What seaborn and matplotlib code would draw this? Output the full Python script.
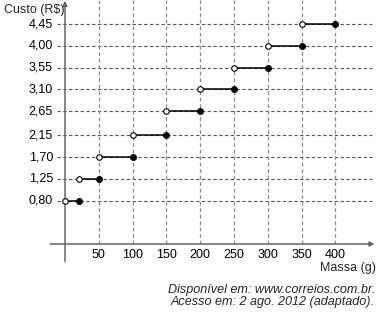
import matplotlib
matplotlib.use("Agg")
import matplotlib.pyplot as plt
import seaborn as sns
import pandas as pd

# ---- data ----
mass_start = [0, 20, 50, 100, 150, 200, 250, 300, 350]
mass_end = [20, 50, 100, 150, 200, 250, 300, 350, 400]
cost = [0.80, 1.25, 1.70, 2.15, 2.65, 3.10, 3.55, 4.00, 4.45]
x_ticks = [50, 100, 150, 200, 250, 300, 350, 400]
y_ticks = cost
y_labels = ["0,80", "1,25", "1,70", "2,15", "2,65", "3,10", "3,55", "4,00", "4,45"]
x_label = "Massa (g)"
y_label = "Custo (R$)"
caption1 = "Disponível em: www.correios.com.br."
caption2 = "Acesso em: 2 ago. 2012 (adaptado)."

sns.set_style("white")
plt.rcParams["font.family"] = ["Liberation Sans", "DejaVu Sans"]

W, H = 381, 315
fig = plt.figure(figsize=(W / 100, H / 100), dpi=100)
ax = fig.add_axes([0, 0, 1, 1])

# pixel mapping: px = 65 + 0.676*g ; py = 239.4 - 48.4*c
sx, x0 = 0.676, 65.0
sy, y0 = 48.4, 239.4
ax.set_xlim(-x0 / sx, (W - x0) / sx)
ax.set_ylim((y0 - H) / sy, y0 / sy)
for s in ax.spines.values():
    s.set_visible(False)
ax.set_xticks([])
ax.set_yticks([])
ax.patch.set_alpha(0)

axis_y = -0.095

# grid lines
ax.hlines(y_ticks, -12, 454, colors="#555555", linestyles=(0, (3, 2.2)), linewidth=0.8, zorder=1)
ax.vlines(x_ticks, axis_y, 4.95, colors="#8a8a8a", linestyles=(0, (3, 2.2)), linewidth=0.9, zorder=1)

# axes with arrows
ax.annotate("", xy=(0, 4.93), xytext=(0, -0.46),
            arrowprops=dict(arrowstyle="-|>", color="#666666", lw=1.1,
                            mutation_scale=7, shrinkA=0, shrinkB=0), zorder=2)
ax.annotate("", xy=(458, axis_y), xytext=(-22, axis_y),
            arrowprops=dict(arrowstyle="-|>", color="#666666", lw=1.1,
                            mutation_scale=7, shrinkA=0, shrinkB=0), zorder=2)

# segments
seg = pd.DataFrame({
    "massa": mass_start + mass_end,
    "custo": cost + cost,
    "faixa": list(range(len(cost))) * 2,
})
sns.lineplot(data=seg, x="massa", y="custo", units="faixa", estimator=None,
             color="black", linewidth=1.1, ax=ax, legend=False, zorder=3)

opens = pd.DataFrame({"massa": mass_start, "custo": cost})
closed = pd.DataFrame({"massa": mass_end, "custo": cost})
sns.scatterplot(data=opens, x="massa", y="custo", s=16, facecolor="white",
                edgecolor="black", linewidth=0.8, ax=ax, zorder=4)
sns.scatterplot(data=closed, x="massa", y="custo", s=20, color="black",
                edgecolor="black", linewidth=0.5, ax=ax, zorder=4)
ax.set_xlabel("")
ax.set_ylabel("")

# tick labels
for v, lab in zip(y_ticks, y_labels):
    ax.text((53 - x0) / sx, v, lab, ha="right", va="center", fontsize=9, color="black")
for v in x_ticks:
    ax.text(v, (y0 - 255) / sy, str(v), ha="center", va="center", fontsize=9, color="black")

fig.text(376 / W, 1 - 268 / H, x_label, ha="right", va="center", fontsize=9)
fig.text(4 / W, 1 - 10 / H, y_label, ha="left", va="center", fontsize=9)
fig.text(375 / W, 1 - 290 / H, caption1, ha="right", va="center", fontsize=9.1, style="italic")
fig.text(375 / W, 1 - 302.5 / H, caption2, ha="right", va="center", fontsize=9.1, style="italic")

fig.savefig("out.png", dpi=100)
